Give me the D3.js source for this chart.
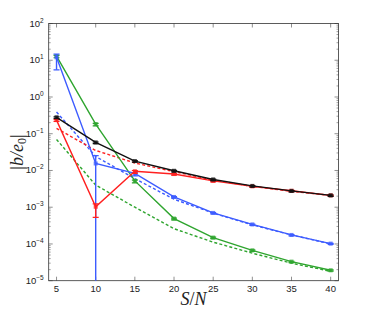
<!DOCTYPE html>
<html>
<head>
<meta charset="utf-8">
<script src="https://cdn.jsdelivr.net/npm/d3@7"></script>
<style>
  body { margin: 0; background: #fff; }
  svg { display: block; }
  .tick-label { font-family: 'Liberation Sans', Arial, sans-serif; font-size: 9.5px; fill: #222; }
  .axis-label { font-family: 'Liberation Serif', 'DejaVu Serif', serif; font-style: italic; font-size: 18px; fill: #222; }
</style>
</head>
<body>
<svg id="chart" width="374" height="315"></svg>
<script>
// x positions (S/N)
const snr = [5, 10, 15, 20, 25, 30, 35, 40];
const xTicks = [5, 10, 15, 20, 25, 30, 35, 40];
const yTickExps = [-5, -4, -3, -2, -1, 0, 1, 2];

// solid (measured) series; error bars as lower / upper offsets
const blackVals = [0.28, 0.058, 0.018, 0.0098, 0.0057, 0.0038, 0.00278, 0.0021];
const blackErr  = [0.02, 0.004, 0.0012, 0.0006, 0.0004, 0.00025, 0.00018, 0.00013];
const redVals   = [0.235, 0.00103, 0.0095, 0.0080, 0.0052, 0.0037, 0.0028, 0.0021];
const redErr    = [0.02, 0.0005, 0.0012, 0.0005, 0.0003, 0.0002, 0.00015, 0.0001];
const blueVals  = [12.0, 0.0155, 0.0083, 0.0019, 0.0007, 0.00034, 0.000176, 0.000102];
const blueErr   = [6.5, 0.025, 0.0012, 0.0001, 0.00004, 0.00002, 0.00001, 0.000005];
const greenVals = [13.0, 0.183, 0.0052, 0.00049, 0.000149, 0.000067, 0.000033, 0.0000192];
const greenErr  = [1.3, 0.02, 0.0006, 0.00004, 0.00001, 0.000004, 0.000002, 0.000001];

// dashed (predicted) series
const redPred   = [0.14, 0.035, 0.016, 0.0093, 0.0055, 0.0037, 0.0027, 0.0021];
const bluePred  = [0.39, 0.024, 0.006, 0.00165, 0.00069, 0.00033, 0.000176, 0.0001];
const greenPred = [0.07, 0.004, 0.001, 0.00026, 0.000112, 0.000056, 0.00003, 0.000018];

const colors = {
  black: '#111111',
  red: '#ff2020',
  blue: '#3d5cff',
  green: '#2fa52f',
};

const margin = { top: 23.5, left: 48.7, right: 35.5, bottom: 34.3 };
const W = 374, H = 315;
const innerW = W - margin.left - margin.right;
const innerH = H - margin.top - margin.bottom;

const x = d3.scaleLinear().domain([4, 41]).range([0, innerW]);
const y = d3.scaleLog().domain([1e-5, 1e2]).range([innerH, 0]);

const svg = d3.select('#chart');
const g = svg.append('g').attr('transform', `translate(${margin.left},${margin.top})`);

g.append('clipPath').attr('id', 'clip')
  .append('rect').attr('width', innerW).attr('height', innerH);

// ticks: x top/bottom, y left/right with minor ticks
const tickColor = '#444';
const ticksG = g.append('g');
xTicks.forEach(t => {
  ticksG.append('line').attr('x1', x(t)).attr('x2', x(t)).attr('y1', innerH).attr('y2', innerH - 4)
    .attr('stroke', tickColor).attr('stroke-width', 0.6);
  ticksG.append('line').attr('x1', x(t)).attr('x2', x(t)).attr('y1', 0).attr('y2', 4)
    .attr('stroke', tickColor).attr('stroke-width', 0.6);
  g.append('text').attr('class', 'tick-label')
    .attr('x', x(t)).attr('y', innerH + 11).attr('text-anchor', 'middle').text(t);
});

yTickExps.forEach(e => {
  const v = Math.pow(10, e);
  [0, innerW].forEach((x0, i) => {
    const dir = i === 0 ? 1 : -1;
    ticksG.append('line').attr('x1', x0).attr('x2', x0 + dir * 4)
      .attr('y1', y(v)).attr('y2', y(v)).attr('stroke', tickColor).attr('stroke-width', 0.6);
    if (e < 2) {
      for (let k = 2; k <= 9; k++) {
        ticksG.append('line').attr('x1', x0).attr('x2', x0 + dir * 2)
          .attr('y1', y(k * v)).attr('y2', y(k * v)).attr('stroke', tickColor).attr('stroke-width', 0.5);
      }
    }
  });
  const lbl = g.append('text').attr('class', 'tick-label')
    .attr('x', -5).attr('y', y(v) + 3).attr('text-anchor', 'end');
  lbl.append('tspan').text('10');
  lbl.append('tspan').attr('dy', -4).attr('font-size', '6.5px').text(e < 0 ? `\u2212${-e}` : `${e}`);
});

// frame
g.append('rect').attr('width', innerW).attr('height', innerH)
  .attr('fill', 'none').attr('stroke', '#333').attr('stroke-width', 0.8);

// axis labels
const yl = svg.append('text').attr('class', 'axis-label')
  .attr('transform', `translate(23, ${margin.top + innerH / 2}) rotate(-90)`)
  .attr('text-anchor', 'middle');
yl.append('tspan').attr('font-style', 'normal').text('|');
yl.append('tspan').text('b/e');
yl.append('tspan').attr('font-style', 'normal').attr('font-size', '12px').attr('dy', 3).text('0');
yl.append('tspan').attr('font-style', 'normal').attr('dy', -3).text('|');

const xl = svg.append('text').attr('class', 'axis-label')
  .attr('x', margin.left + x(22.5)).attr('y', H - 10).attr('text-anchor', 'middle');
xl.append('tspan').text('S');
xl.append('tspan').attr('font-style', 'normal').text('/');
xl.append('tspan').text('N');

const plot = g.append('g').attr('clip-path', 'url(#clip)');
const line = d3.line().x(d => x(d[0])).y(d => y(d[1]));

// dashed predictions
[[greenPred, colors.green], [bluePred, colors.blue], [redPred, colors.red]].forEach(([vals, c]) => {
  plot.append('path').datum(snr.map((s, i) => [s, vals[i]]))
    .attr('d', line).attr('fill', 'none').attr('stroke', c)
    .attr('stroke-width', 1.4).attr('stroke-dasharray', '3,2.2');
});

// solid measurements with error bars and square markers
const series = [
  [greenVals, greenErr, colors.green],
  [blueVals, blueErr, colors.blue],
  [redVals, redErr, colors.red],
  [blackVals, blackErr, colors.black],
];
series.forEach(([vals, errs, c]) => {
  plot.append('path').datum(snr.map((s, i) => [s, vals[i]]))
    .attr('d', line).attr('fill', 'none').attr('stroke', c).attr('stroke-width', 1.4);

  snr.forEach((s, i) => {
    const lo = vals[i] - errs[i];
    const yLo = lo > 0 ? y(lo) : innerH + 5;
    const yHi = y(vals[i] + errs[i] * 0.4);
    const px = x(s);
    plot.append('line').attr('x1', px).attr('x2', px).attr('y1', yLo).attr('y2', yHi)
      .attr('stroke', c).attr('stroke-width', 1.4);
    [yLo, yHi].forEach(yy => {
      plot.append('line').attr('x1', px - 3).attr('x2', px + 3).attr('y1', yy).attr('y2', yy)
        .attr('stroke', c).attr('stroke-width', 1.2);
    });
    plot.append('rect').attr('x', px - 2).attr('y', y(vals[i]) - 2)
      .attr('width', 4).attr('height', 4).attr('fill', c).attr('opacity', 0.8);
  });
});
</script>
</body>
</html>
